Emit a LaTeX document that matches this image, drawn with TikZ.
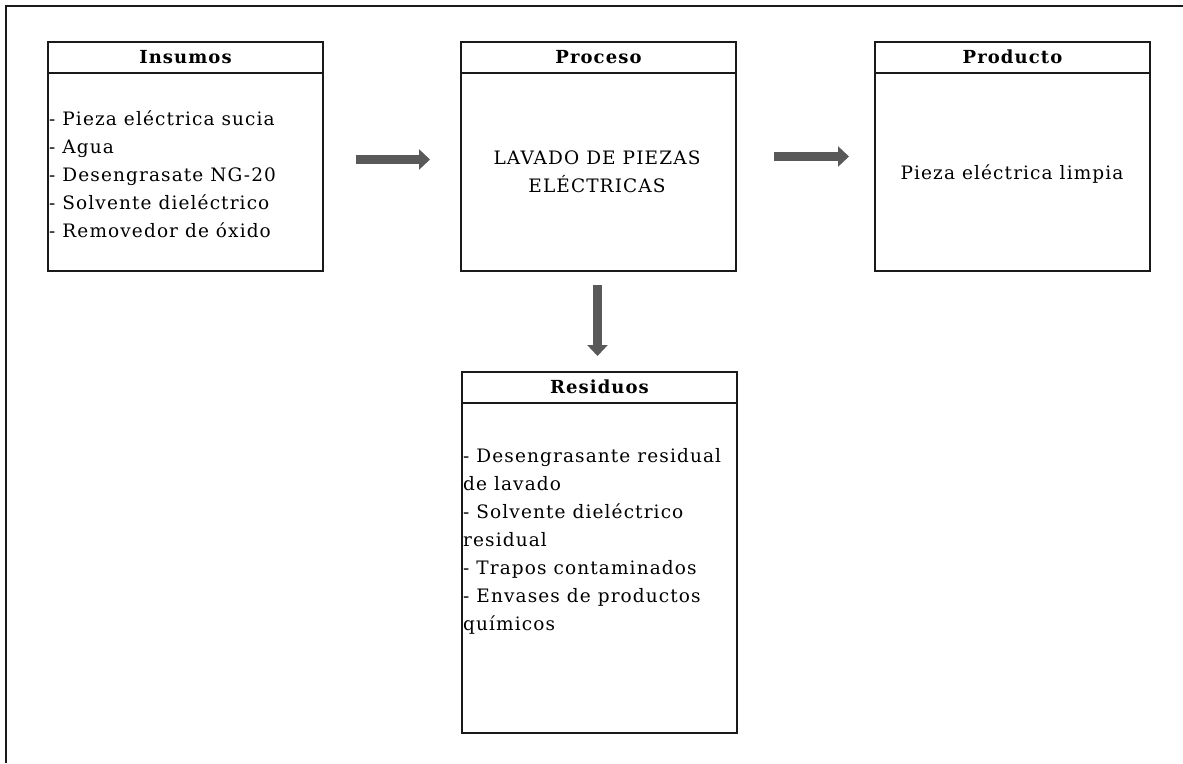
\documentclass[tikz,border=0pt]{standalone}
\usepackage{fontspec}
\setmainfont{DejaVu Serif}
\newfontfamily\bodyfont[LetterSpace=6]{DejaVu Serif}
\newfontfamily\headfont[LetterSpace=6]{DejaVu Serif}
\usetikzlibrary{arrows.meta}

\definecolor{framecol}{HTML}{1A1A1A}
\definecolor{arrowcol}{HTML}{595959}

\tikzset{
  panel/.style={draw=framecol, line width=2pt, minimum width=275pt, anchor=north west, inner sep=0pt},
  sepline/.style={draw=framecol, line width=1.6pt},
  headtext/.style={font=\headfont\bfseries\fontsize{18}{22}\selectfont, inner sep=0pt},
  bodytext/.style={font=\bodyfont\fontsize{18.5}{28}\selectfont, inner sep=0pt},
  fatarrow/.style={draw=arrowcol, line width=9pt, -{Triangle[width=20pt,length=11pt]}},
}

\begin{document}
\begin{tikzpicture}[x=1pt, y=-1pt]
\useasboundingbox (0,0) rectangle (1183,763);

% outer frame: left and top edges
\draw[framecol, line width=2pt] (6,763) -- (6,6) -- (1183,6);

% panels
\node[panel, minimum height=229pt] (insumos) at (47,41) {};
\node[panel, minimum height=229pt] (proceso) at (460,41) {};
\node[panel, minimum height=229pt] (producto) at (874,41) {};
\node[panel, minimum height=361pt] (residuos) at (461,371) {};

% header rules
\foreach \p in {insumos, proceso, producto, residuos}{
  \draw[sepline] ([yshift=-32pt]\p.north west) -- ([yshift=-32pt]\p.north east);
}

% headers
\node[headtext] (hins) at ([yshift=-16pt]insumos.north) {Insumos};
\node[headtext] (hpro) at ([yshift=-16pt]proceso.north) {Proceso};
\node[headtext] (hprd) at ([yshift=-16pt]producto.north) {Producto};
\node[headtext] (hres) at ([yshift=-16pt]residuos.north) {Residuos};

% panel contents
\node[bodytext, align=left, anchor=north west] (tins) at (49,110)
  {- Pieza eléctrica sucia\\- Agua\\- Desengrasate NG-20\\- Solvente dieléctrico\\- Removedor de óxido};
\node[bodytext, align=center] (tpro) at (597,172)
  {LAVADO DE PIEZAS\\ELÉCTRICAS};
\node[bodytext] (tprd) at (1012,174) {Pieza eléctrica limpia};
\node[bodytext, align=left, anchor=north west] (tres) at (463,448)
  {- Desengrasante residual\\de lavado\\- Solvente dieléctrico\\residual\\- Trapos contaminados\\- Envases de productos\\químicos};

% flow arrows
\draw[fatarrow, shorten <=32pt, shorten >=30pt] ([yshift=-3pt]insumos.east) -- ([yshift=-3pt]proceso.west);
\draw[fatarrow, shorten <=37pt, shorten >=25pt] (proceso.east) -- (producto.west);
\draw[fatarrow, shorten <=13pt, shorten >=15pt] ([xshift=-1pt]proceso.south) -- ([xshift=-2pt]residuos.north);
\end{tikzpicture}
\end{document}
